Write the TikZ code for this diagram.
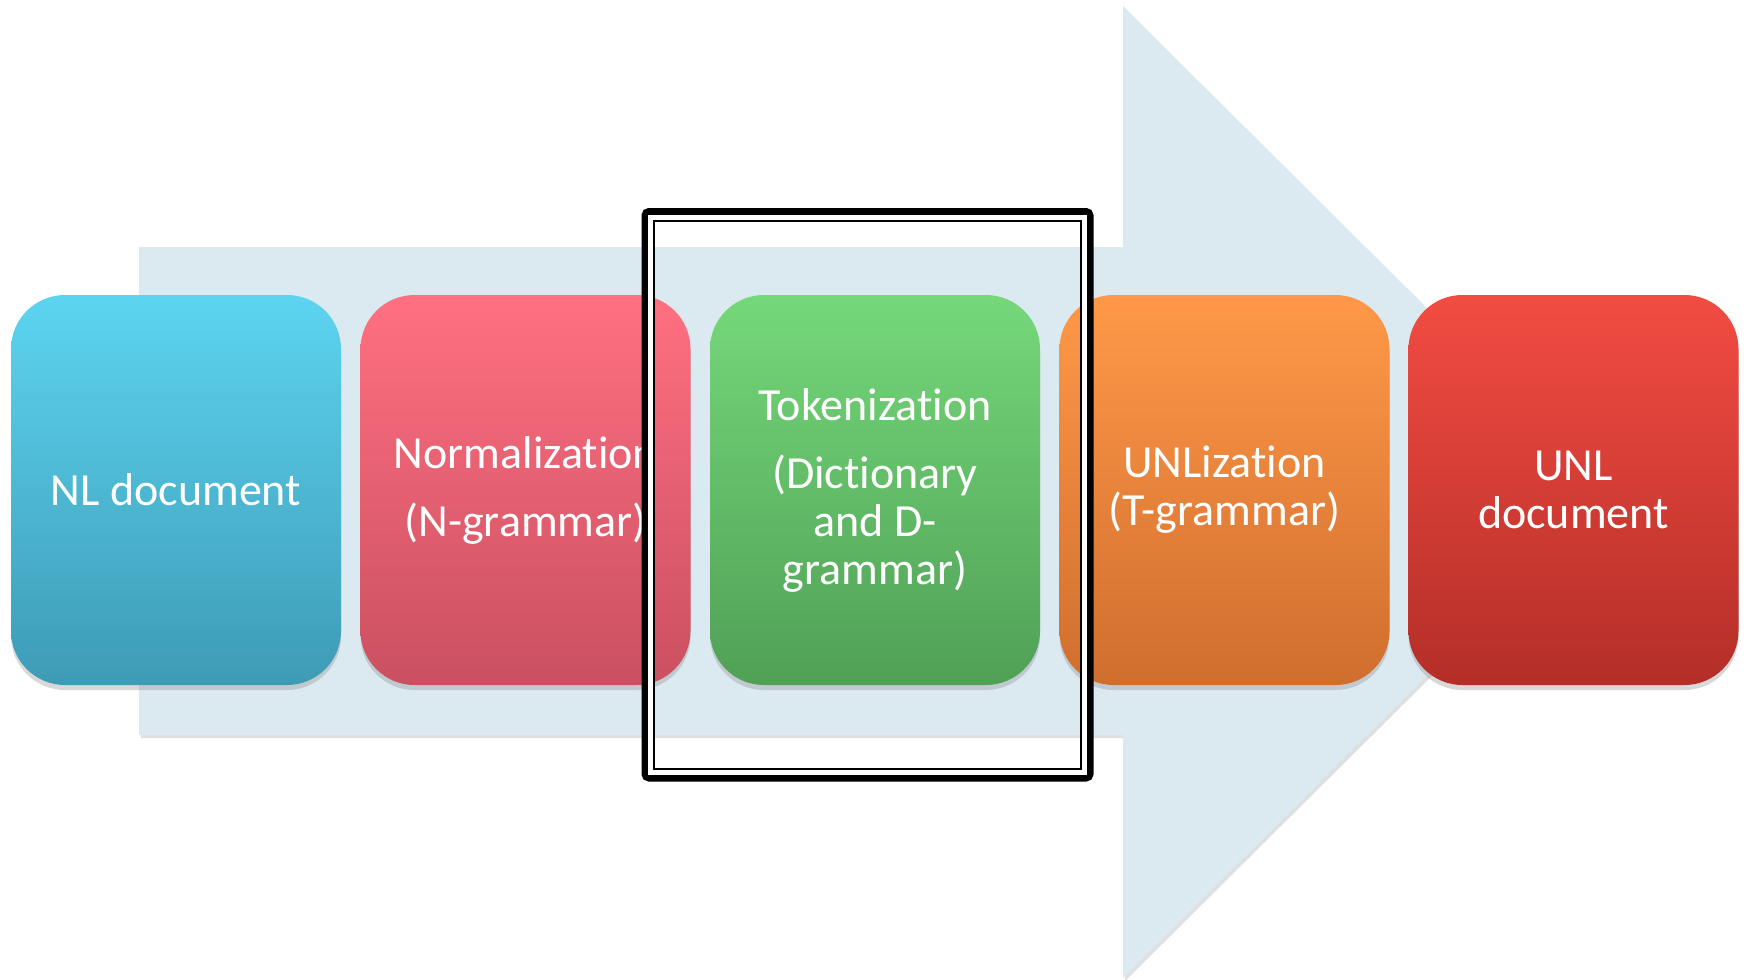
\documentclass[tikz,border=0pt]{standalone}
\usepackage{fontspec}
\setmainfont{Carlito}[Ligatures={NoCommon,NoRare}]
\usetikzlibrary{shadows}
\definecolor{arrowc}{RGB}{219,233,240}
\definecolor{blueT}{RGB}{92,212,240}
\definecolor{blueB}{RGB}{62,155,182}
\definecolor{pinkT}{RGB}{255,112,130}
\definecolor{pinkB}{RGB}{202,80,96}
\definecolor{greenT}{RGB}{117,216,122}
\definecolor{greenB}{RGB}{80,160,86}
\definecolor{orangeT}{RGB}{255,152,72}
\definecolor{orangeB}{RGB}{208,110,46}
\definecolor{redT}{RGB}{242,76,66}
\definecolor{redB}{RGB}{180,46,40}
\tikzset{
  stage/.style={rectangle, rounded corners=27pt, minimum width=165pt, minimum height=195pt,
    inner sep=0pt, text=white, align=center, font=\fontsize{23}{24}\selectfont,
    drop shadow={opacity=0.3, shadow xshift=0pt, shadow yshift=-2.5pt}},
  bigarrow/.style={fill=arrowc, drop shadow={opacity=0.25, shadow xshift=1pt, shadow yshift=-1.5pt}},
}
\begin{document}
\begin{tikzpicture}[x=0.5pt,y=-0.5pt]
\useasboundingbox (0,0) rectangle (1747,980);
\fill[white] (0,0) rectangle (1747,980);
% big arrow
\path[bigarrow] (139,247) -- (1123,247) -- (1123,6) -- (1612,492) -- (1123,978) -- (1123,735) -- (139,735) -- cycle;
% stages
\node[stage, top color=blueT, bottom color=blueB] (nl) at (176,490) {NL document};
\node[stage, top color=pinkT, bottom color=pinkB] (norm) at (525.5,490) {Normalization\\[10pt](N-grammar)};
\node[stage, top color=greenT, bottom color=greenB] (tok) at (875,490) {Tokenization\\[10pt](Dictionary\\and D-\\grammar)};
\node[stage, top color=orangeT, bottom color=orangeB] (unlz) at (1224.5,490) {UNLization\\(T-grammar)};
\node[stage, top color=redT, bottom color=redB] (unl) at (1573.5,490) {UNL\\document};
% highlight frame
\draw[line width=3.5pt, rounded corners=2pt] (645,211.5) rectangle (1090,778);
\draw[white, line width=2.2pt] (650.5,217) rectangle (1084.5,772.5);
\draw[line width=1.25pt] (654,221) rectangle (1081,769);
\end{tikzpicture}
\end{document}
